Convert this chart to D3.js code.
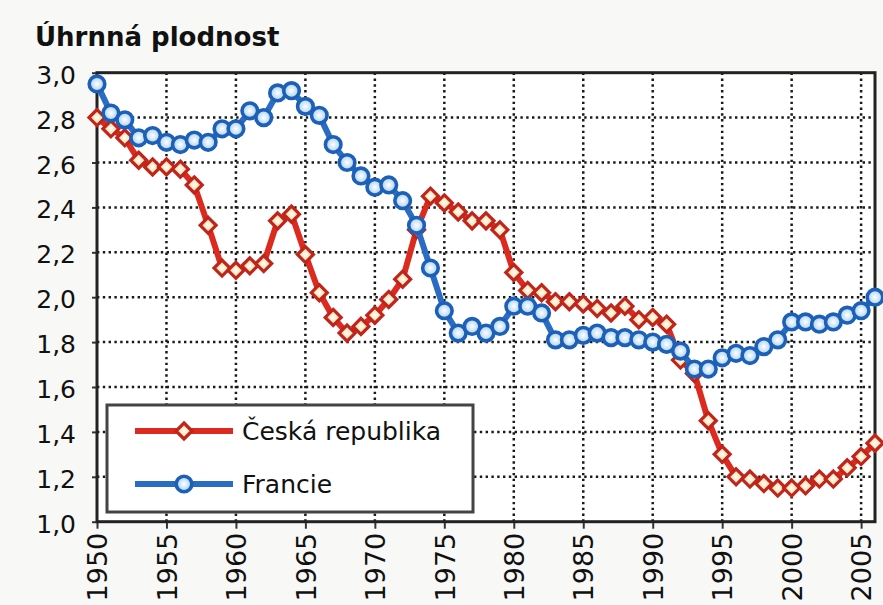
<!DOCTYPE html>
<html>
<head>
<meta charset="utf-8">
<script src="https://cdn.jsdelivr.net/npm/d3@7"></script>
<style>
  body { margin: 0; background: #f8f8f6; }
  svg { display: block; }
  text { font-family: "DejaVu Sans", Verdana, sans-serif; fill: #111; }
</style>
</head>
<body>
<div id="viz"></div>
<script>
//-------Data-----------
var years = [1950, 1951, 1952, 1953, 1954, 1955, 1956, 1957, 1958, 1959,
             1960, 1961, 1962, 1963, 1964, 1965, 1966, 1967, 1968, 1969,
             1970, 1971, 1972, 1973, 1974, 1975, 1976, 1977, 1978, 1979,
             1980, 1981, 1982, 1983, 1984, 1985, 1986, 1987, 1988, 1989,
             1990, 1991, 1992, 1993, 1994, 1995, 1996, 1997, 1998, 1999,
             2000, 2001, 2002, 2003, 2004, 2005, 2006];

var czech = [2.80, 2.75, 2.71, 2.61, 2.58, 2.58, 2.57, 2.50, 2.32, 2.13,
             2.12, 2.14, 2.15, 2.34, 2.37, 2.19, 2.02, 1.91, 1.84, 1.87,
             1.92, 1.99, 2.08, 2.30, 2.45, 2.42, 2.38, 2.34, 2.34, 2.30,
             2.11, 2.03, 2.02, 1.98, 1.98, 1.97, 1.95, 1.93, 1.96, 1.90,
             1.91, 1.88, 1.72, 1.66, 1.45, 1.30, 1.20, 1.19, 1.17, 1.15,
             1.15, 1.16, 1.19, 1.19, 1.24, 1.29, 1.35];

var france = [2.95, 2.82, 2.79, 2.71, 2.72, 2.69, 2.68, 2.70, 2.69, 2.75,
              2.75, 2.83, 2.80, 2.91, 2.92, 2.85, 2.81, 2.68, 2.60, 2.54,
              2.49, 2.50, 2.43, 2.32, 2.13, 1.94, 1.84, 1.87, 1.84, 1.87,
              1.96, 1.96, 1.93, 1.81, 1.81, 1.83, 1.84, 1.82, 1.82, 1.81,
              1.80, 1.79, 1.76, 1.68, 1.68, 1.73, 1.75, 1.74, 1.78, 1.81,
              1.89, 1.89, 1.88, 1.89, 1.92, 1.94, 2.00];

var seriesNames = ["Česká republika", "Francie"];
var yTickValues = [1.0, 1.2, 1.4, 1.6, 1.8, 2.0, 2.2, 2.4, 2.6, 2.8, 3.0];
var xTickValues = [1950, 1955, 1960, 1965, 1970, 1975, 1980, 1985, 1990, 1995, 2000, 2005];
var title = "Úhrnná plodnost";

//---------------------------------
var width = 883,
    height = 605;
var plotLeft = 97, plotRight = 875, plotTop = 72.7, plotBottom = 521.7;

var svg = d3.select("#viz")
  .append("svg")
    .attr("width", width)
    .attr("height", height);

var defs = svg.append("defs");
var gCz = defs.append("radialGradient").attr("id", "czFill");
gCz.append("stop").attr("offset", "0%").attr("stop-color", "#fffdf0");
gCz.append("stop").attr("offset", "100%").attr("stop-color", "#efd49c");
var gFr = defs.append("radialGradient").attr("id", "frFill");
gFr.append("stop").attr("offset", "0%").attr("stop-color", "#ffffff");
gFr.append("stop").attr("offset", "100%").attr("stop-color", "#a4cff0");

//------Scales & axes-----------
var xScale = d3.scaleLinear().domain([1950, 2006]).range([plotLeft, plotRight]);
var yScale = d3.scaleLinear().domain([1, 3]).range([plotBottom, plotTop]);
var comma = d3.formatLocale({decimal: ",", thousands: " ", grouping: [3], currency: ["", ""]}).format(".1f");

svg.append("rect")
    .attr("x", plotLeft).attr("y", plotTop)
    .attr("width", plotRight - plotLeft).attr("height", plotBottom - plotTop)
    .style("fill", "#fff");

// grid
var grid = svg.append("g").attr("id", "grid");
grid.selectAll("line.h")
  .data(yTickValues.filter(function(d){ return d > 1 && d < 3; }))
  .enter().append("line")
    .attr("x1", plotLeft).attr("x2", plotRight)
    .attr("y1", function(d){ return yScale(d); })
    .attr("y2", function(d){ return yScale(d); })
    .style("stroke", "#1a1a1a").style("stroke-width", 2.5)
    .style("stroke-dasharray", "2.4,3.4");
grid.selectAll("line.v")
  .data(xTickValues.filter(function(d){ return d > 1950; }))
  .enter().append("line")
    .attr("y1", plotTop).attr("y2", plotBottom)
    .attr("x1", function(d){ return xScale(d); })
    .attr("x2", function(d){ return xScale(d); })
    .style("stroke", "#1a1a1a").style("stroke-width", 2.5)
    .style("stroke-dasharray", "2.4,3.4");

var gYAxis = svg.append("g")
    .attr("transform", "translate(" + plotLeft + ",0)")
    .call(d3.axisLeft(yScale).tickValues(yTickValues).tickSize(5).tickPadding(16).tickFormat(comma));
gYAxis.select(".domain").remove();
gYAxis.selectAll("line").style("stroke", "#333").style("stroke-width", 2);
gYAxis.selectAll("text")
    .style("font-size", "25px")
    .attr("dy", "0.42em");

var gXAxis = svg.append("g")
    .attr("transform", "translate(0," + plotBottom + ")")
    .call(d3.axisBottom(xScale).tickValues(xTickValues).tickSize(7).tickFormat(d3.format("d")));
gXAxis.select(".domain").remove();
gXAxis.selectAll("line").style("stroke", "#333").style("stroke-width", 2);
gXAxis.selectAll("text")
    .style("font-size", "27px")
    .attr("text-anchor", "end")
    .attr("x", 0).attr("y", 0)
    .attr("dy", "0.36em")
    .attr("transform", "translate(0,11) rotate(-90)");

// frame
svg.append("rect")
    .attr("x", plotLeft).attr("y", plotTop)
    .attr("width", plotRight - plotLeft).attr("height", plotBottom - plotTop)
    .style("fill", "none").style("stroke", "#222").style("stroke-width", 3);

// title
svg.append("text")
    .attr("x", 35).attr("y", 46)
    .style("font-size", "26px").style("font-weight", "bold")
    .text(title);

//------Plot the data--------------------
var line = d3.line()
    .x(function(d){ return xScale(d[0]); })
    .y(function(d){ return yScale(d[1]); });

var czData = years.map(function(y, i){ return [y, czech[i]]; });
var frData = years.map(function(y, i){ return [y, france[i]]; });

var diamond = "M0,-8L8,0L0,8L-8,0Z";

function drawCz(g, pts) {
  g.selectAll("path.m").data(pts).enter().append("path")
    .attr("d", diamond)
    .attr("transform", function(d){ return "translate(" + xScale(d[0]) + "," + yScale(d[1]) + ")"; })
    .style("fill", "url(#czFill)").style("stroke", "#c0241a").style("stroke-width", 3.2);
}
function drawFr(g, pts) {
  g.selectAll("circle").data(pts).enter().append("circle")
    .attr("r", 7.8)
    .attr("cx", function(d){ return xScale(d[0]); })
    .attr("cy", function(d){ return yScale(d[1]); })
    .style("fill", "url(#frFill)").style("stroke", "#1c60b8").style("stroke-width", 3.6);
}

var cz = svg.append("g").attr("id", "czech");
cz.append("path").datum(czData).attr("d", line)
    .style("fill", "none").style("stroke", "#dd2a1f").style("stroke-width", 6)
    .style("stroke-linejoin", "round");
drawCz(cz, czData);

var fr = svg.append("g").attr("id", "france");
fr.append("path").datum(frData).attr("d", line)
    .style("fill", "none").style("stroke", "#2a6cc4").style("stroke-width", 6)
    .style("stroke-linejoin", "round");
drawFr(fr, frData);

//------Legend--------------------
var legend = svg.append("g").attr("id", "legend");
legend.append("rect")
    .attr("x", 107).attr("y", 405).attr("width", 366).attr("height", 107)
    .style("fill", "#fff").style("stroke", "#444").style("stroke-width", 3);

var rows = [
  {name: seriesNames[0], y: 431, color: "#dd2a1f", draw: function(g){
      g.append("path").attr("d", diamond).attr("transform", "translate(184,431)")
        .style("fill", "url(#czFill)").style("stroke", "#c0241a").style("stroke-width", 3.2); }},
  {name: seriesNames[1], y: 484, color: "#2a6cc4", draw: function(g){
      g.append("circle").attr("cx", 184).attr("cy", 484).attr("r", 7.8)
        .style("fill", "url(#frFill)").style("stroke", "#1c60b8").style("stroke-width", 3.6); }}
];
rows.forEach(function(r){
  legend.append("line")
    .attr("x1", 135).attr("x2", 233).attr("y1", r.y).attr("y2", r.y)
    .style("stroke", r.color).style("stroke-width", 6);
  r.draw(legend);
  legend.append("text")
    .attr("x", 242).attr("y", r.y + 9)
    .style("font-size", "25px")
    .text(r.name);
});
</script>
</body>
</html>
